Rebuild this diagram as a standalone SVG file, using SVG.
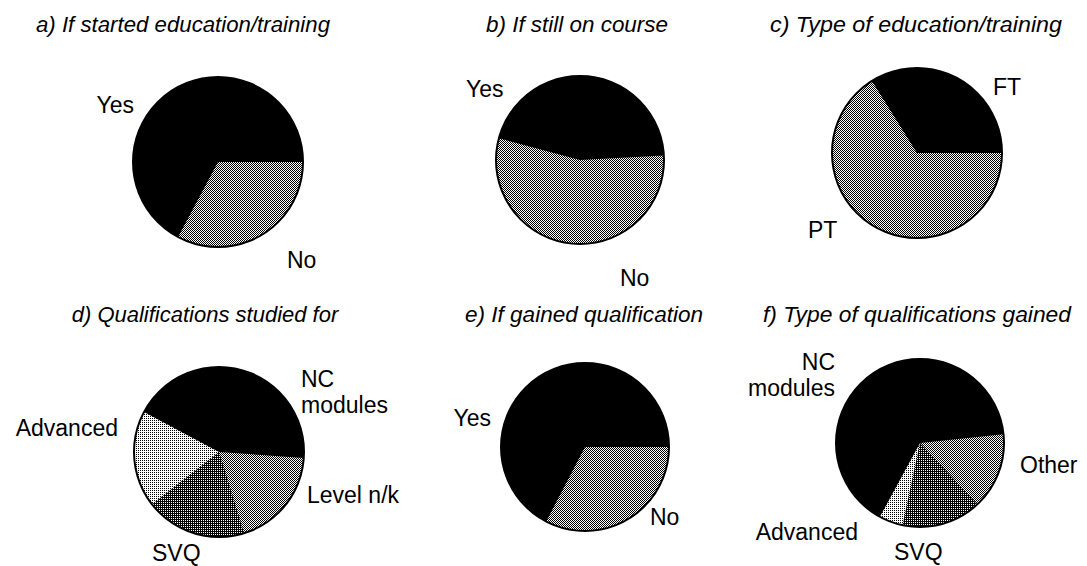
<svg xmlns="http://www.w3.org/2000/svg" width="1087" height="566" viewBox="0 0 1087 566">
<style>
.title{font-family:"Liberation Sans",Arial,sans-serif;font-style:italic;font-size:22px;fill:#000}
.lbl{font-family:"Liberation Sans",Arial,sans-serif;font-size:23px;fill:#000}
.end{text-anchor:end}
.mid{text-anchor:middle}
.rim{fill:none;stroke:#000;stroke-width:2}
.blk{fill:#000}
.med{fill:url(#pMed)}
.lt{fill:url(#pLight)}
.dk{fill:url(#pDark)}
</style>
<defs>
<pattern id="pMed" width="2" height="2" patternUnits="userSpaceOnUse">
<rect width="2" height="2" fill="#fff"/>
<rect x="0" y="0" width="1" height="1" fill="#000"/>
<rect x="1" y="1" width="1" height="1" fill="#000"/>
</pattern>
<pattern id="pLight" width="2" height="2" patternUnits="userSpaceOnUse">
<rect width="2" height="2" fill="#fff"/>
<rect x="0" y="0" width="1" height="1" fill="#000"/>
</pattern>
<pattern id="pDark" width="2" height="2" patternUnits="userSpaceOnUse">
<rect width="2" height="2" fill="#000"/>
<rect x="1" y="0" width="1" height="1" fill="#fff"/>
</pattern>
</defs>
<rect width="1087" height="566" fill="#fff"/>

<g id="chart-a">
<text class="title" x="36" y="32" textLength="294" lengthAdjust="spacingAndGlyphs">a) If started education/training</text>
<circle class="blk" cx="218" cy="162" r="85"/>
<path class="med" d="M218,162 L303,162 A85,85 0 0 1 178.1,237 Z"/>
<circle class="rim" cx="218" cy="162" r="85"/>
<text class="lbl end" x="134" y="113">Yes</text>
<text class="lbl" x="287" y="268">No</text>
</g>

<g id="chart-b">
<text class="title" x="486" y="32" textLength="182" lengthAdjust="spacingAndGlyphs">b) If still on course</text>
<circle class="med" cx="580" cy="160" r="84"/>
<path class="blk" d="M580,160 L498.9,138.3 A84,84 0 0 1 663.9,155.6 Z"/>
<circle class="rim" cx="580" cy="160" r="84"/>
<text class="lbl" x="466" y="97">Yes</text>
<text class="lbl" x="620" y="286">No</text>
</g>

<g id="chart-c">
<text class="title" x="770" y="32" textLength="292" lengthAdjust="spacingAndGlyphs">c) Type of education/training</text>
<circle class="med" cx="917" cy="153" r="85"/>
<path class="blk" d="M917,153 L872,80.9 A85,85 0 0 1 1002,153 Z"/>
<circle class="rim" cx="917" cy="153" r="85"/>
<text class="lbl" x="993" y="95">FT</text>
<text class="lbl" x="808" y="238">PT</text>
</g>

<g id="chart-d">
<text class="title mid" x="205" y="322">d) Qualifications studied for</text>
<circle class="blk" cx="219" cy="452" r="85"/>
<path class="med" d="M219,452 L303.8,457.9 A85,85 0 0 1 243.9,533.3 Z"/>
<path class="dk" d="M219,452 L243.9,533.3 A85,85 0 0 1 152,504.3 Z"/>
<path class="lt" d="M219,452 L152,504.3 A85,85 0 0 1 144,412.1 Z"/>
<circle class="rim" cx="219" cy="452" r="85"/>
<text class="lbl" x="301" y="387">NC</text>
<text class="lbl" x="301" y="413">modules</text>
<text class="lbl end" x="118" y="436">Advanced</text>
<text class="lbl" x="307" y="503">Level n/k</text>
<text class="lbl" x="152" y="561">SVQ</text>
</g>

<g id="chart-e">
<text class="title" x="465" y="322" textLength="238" lengthAdjust="spacingAndGlyphs">e) If gained qualification</text>
<circle class="blk" cx="585" cy="447" r="84"/>
<path class="med" d="M585,447 L669,447 A84,84 0 0 1 546.2,521.5 Z"/>
<circle class="rim" cx="585" cy="447" r="84"/>
<text class="lbl end" x="491" y="426">Yes</text>
<text class="lbl" x="650" y="525">No</text>
</g>

<g id="chart-f">
<text class="title" x="763" y="322" textLength="308" lengthAdjust="spacingAndGlyphs">f) Type of qualifications gained</text>
<circle class="blk" cx="920" cy="443" r="84"/>
<path class="med" d="M920,443 L1003.5,434.2 A84,84 0 0 1 977.3,504.4 Z"/>
<path class="dk" d="M920,443 L977.3,504.4 A84,84 0 0 1 902.5,525.2 Z"/>
<path class="lt" d="M920,443 L902.5,525.2 A84,84 0 0 1 879.9,516.8 Z"/>
<circle class="rim" cx="920" cy="443" r="84"/>
<text class="lbl end" x="835" y="370">NC</text>
<text class="lbl end" x="835" y="396">modules</text>
<text class="lbl" x="1020" y="473">Other</text>
<text class="lbl end" x="858" y="540">Advanced</text>
<text class="lbl" x="894" y="560">SVQ</text>
</g>

<g id="connectors"></g>
</svg>
